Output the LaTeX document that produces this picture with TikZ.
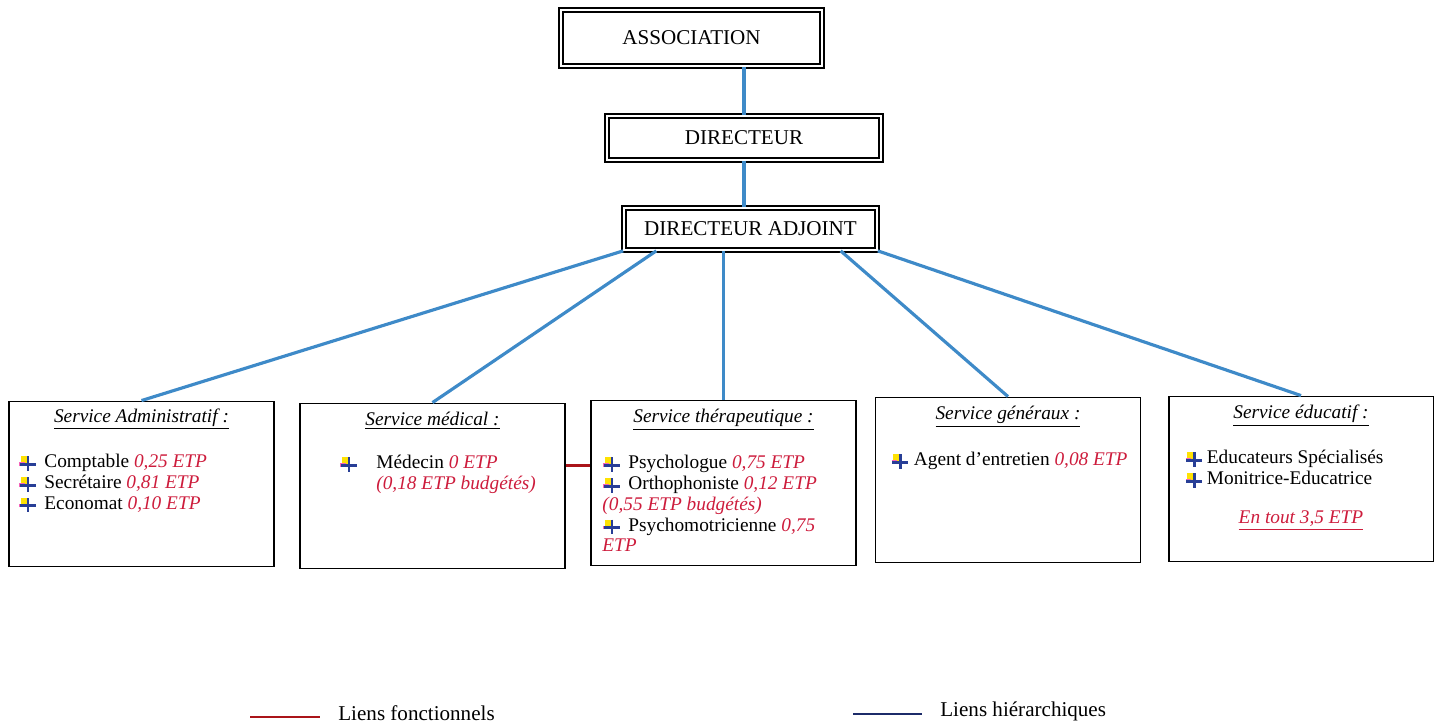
\documentclass[tikz,border=0pt]{standalone}
\usepackage{fontspec}
\setmainfont{Liberation Serif}
\definecolor{main}{RGB}{62,138,200}
\definecolor{second}{RGB}{170,20,25}
\definecolor{third}{RGB}{205,28,60}
\definecolor{fourth}{RGB}{40,62,150}
\usetikzlibrary{
	positioning,
	calc
}
\tikzset{
  % link
	csthier/.style    ={main, line width=1.8pt},   % lien hierarchique
	cstfonc/.style    ={second, line width=1.7pt}, % lien fonctionnel
  % node
	csthead/.style    ={draw=black, double=white, double distance=1.2pt, line width=1pt, inner sep=0pt, font=\fontsize{12}{14}\selectfont},
	cstbox/.style     ={draw=black, line width=1.1pt, minimum width=5.3cm, minimum height=3.3cm, inner sep=0pt},
	csttitle/.style   ={inner sep=0pt, font=\fontsize{11}{13}\selectfont\itshape},
	cstlist/.style    ={align=left, anchor=north west, inner sep=0pt, font=\fontsize{11}{11.8}\selectfont},
	cstlegend/.style  ={anchor=west, inner sep=0pt, font=\fontsize{12}{14}\selectfont}
}
\newcommand{\etp}[1]{\textcolor{third}{\textit{#1}}}
\newcommand{\puce}[1][0.52cm]{\makebox[#1][l]{\tikz[x=1cm,y=1cm,baseline=-0.5ex]{%
	\fill[yellow!85!orange] (-0.14,0) rectangle (-0.02,0.14);%
	\fill[magenta!60] (-0.17,-0.05) rectangle (-0.06,0.02);%
	\draw[fourth,line width=1.7pt] (-0.16,-0.02)--(0.16,-0.02);%
	\draw[fourth,line width=1.4pt] (0,0.14)--(0,-0.15);}}}

\begin{document}
\begin{tikzpicture}[x=0.02cm,y=-0.02cm]
	\useasboundingbox (0,0) rectangle (1438,727);
	% direction
	\node[csthead,minimum width=5.22cm,minimum height=1.12cm] (asso) at (691.5,38) {ASSOCIATION};
	\node[csthead,minimum width=5.48cm,minimum height=0.88cm] (dir) at (744,138) {DIRECTEUR};
	\node[csthead,minimum width=5.06cm,minimum height=0.84cm] (da) at (750.5,229) {DIRECTEUR ADJOINT};
	% services
	\node[cstbox] (adm) at (141.5,484) {};
	\node[cstbox] (med) at (432.5,486) {};
	\node[cstbox] (ther) at (723.5,483) {};
	\node[cstbox] (gen) at (1008,480) {};
	\node[cstbox] (educ) at (1301,479) {};
	\node[csttitle] (admT) at ([yshift=-0.37cm]adm.north) {\underline{Service Administratif :}};
	\node[csttitle] (medT) at ([yshift=-0.36cm]med.north) {\underline{Service médical :}};
	\node[csttitle] (therT) at ([yshift=-0.4cm]ther.north) {\underline{Service thérapeutique :}};
	\node[csttitle] (genT) at ([yshift=-0.4cm]gen.north) {\underline{Service généraux :}};
	\node[csttitle] (educT) at ([yshift=-0.4cm]educ.north) {\underline{Service éducatif :}};
	\node[cstlist] (admL) at ([xshift=0.2cm,yshift=-1.07cm]adm.north west)
		{\puce Comptable \etp{0,25 ETP}\\ \puce Secrétaire \etp{0,81 ETP}\\ \puce Economat \etp{0,10 ETP}};
	\node[cstlist] (medL) at ([xshift=0.8cm,yshift=-1.05cm]med.north west)
		{\puce[0.74cm]Médecin \etp{0 ETP}\\ \hspace*{0.74cm}\etp{(0,18 ETP budgétés)}};
	\node[cstlist] (therL) at ([xshift=0.24cm,yshift=-1.11cm]ther.north west)
		{\puce Psychologue \etp{0,75 ETP}\\ \puce Orthophoniste \etp{0,12 ETP}\\ \etp{(0,55 ETP budgétés)}\\ \puce Psychomotricienne \etp{0,75}\\ \etp{ETP}};
	\node[cstlist] (genL) at ([xshift=0.32cm,yshift=-1.11cm]gen.north west)
		{\puce[0.46cm]Agent d'entretien \etp{0,08 ETP}};
	\node[cstlist] (educL) at ([xshift=0.34cm,yshift=-1.09cm]educ.north west)
		{\puce[0.44cm]Educateurs Spécialisés\\ \puce[0.44cm]Monitrice-Educatrice};
	\node[csttitle,font=\fontsize{11}{13}\selectfont] (educE) at ([yshift=-2.5cm]educ.north) {\etp{\underline{En tout 3,5 ETP}}};
	% liens
	\draw[csthier] (dir.north) -- (dir.north |- asso.south);
	\draw[csthier] (dir.south) -- (dir.south |- da.north);
	\draw[csthier] (da.south west) -- (adm.north);
	\draw[csthier] ($(da.south west)!0.13!(da.south east)$) -- (med.north);
	\draw[csthier] (ther.north |- da.south) -- (ther.north);
	\draw[csthier] ($(da.south west)!0.854!(da.south east)$) -- (gen.north);
	\draw[csthier] (da.south east) -- (educ.north);
	\draw[cstfonc] ([yshift=0.42cm]med.east) -- ([yshift=0.42cm]med.east -| ther.west);
	% legende
	\coordinate (lf1) at (250,717);
	\coordinate (lf2) at (320,717);
	\coordinate (lh1) at (853,714);
	\coordinate (lh2) at (922,714);
	\draw[cstfonc,line width=1.2pt] (lf1) -- (lf2);
	\draw[fourth!70!black,line width=1.2pt] (lh1) -- (lh2);
	\node[cstlegend] (lfT) at (338,713) {Liens fonctionnels};
	\node[cstlegend] (lhT) at (940,711) {Liens hiérarchiques};
\end{tikzpicture}
\end{document}
